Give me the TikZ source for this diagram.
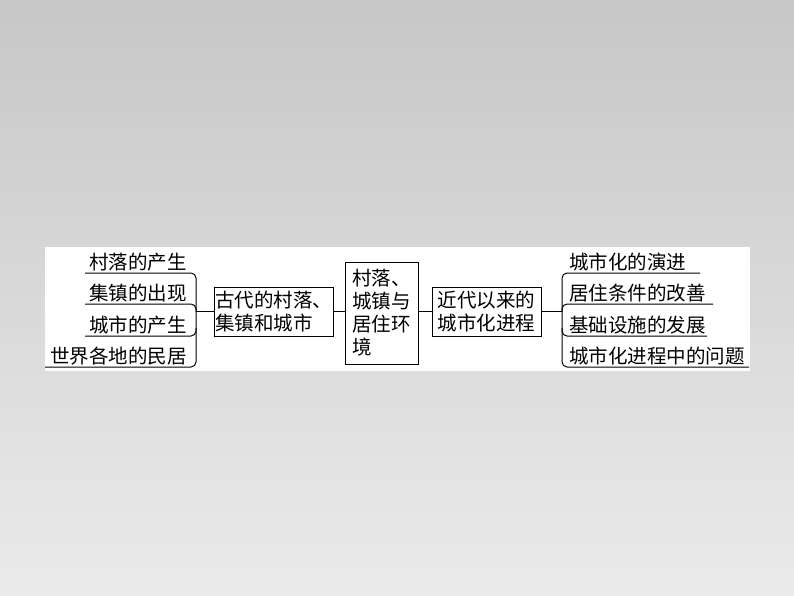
\documentclass[tikz,border=0pt]{standalone}
\usepackage{fontspec}
\newfontfamily\cjk{Noto Sans CJK SC}
\begin{document}
\begin{tikzpicture}[x=1pt,y=-1pt,
  txt/.style={font=\cjk\fontsize{19.5}{23}\selectfont,inner sep=0pt},
  box/.style={draw,line width=1pt,font=\cjk\fontsize{19.5}{23}\selectfont,align=left,inner sep=1pt},
  ln/.style={line width=1pt}]
\shade[top color=black!22,bottom color=black!8] (0,0) rectangle (794,596);
\useasboundingbox (0,0) rectangle (794,596);
\fill[white] (45,247) rectangle (750,371);
% left items
\node[txt,anchor=south east] (l1) at (187,271) {村落的产生};
\node[txt,anchor=south east] (l2) at (187,302) {集镇的出现};
\node[txt,anchor=south east] (l3) at (187,334) {城市的产生};
\node[txt,anchor=south east] (l4) at (187,365) {世界各地的民居};
\draw[ln,rounded corners=5pt] (85,273) -- (196,273) -- (196,367) -- (45,367);
\draw[ln,rounded corners=5pt] (85,304) -- (196,304) -- (196,312);
\draw[ln,rounded corners=5pt] (85,336) -- (196,336) -- (196,328);
% boxes
\node[box,minimum width=119pt,minimum height=49pt] (b1) at (273.5,311.5) {古代的村落、\\集镇和城市};
\node[box,minimum width=73pt,minimum height=102pt] (b2) at (381.5,313) {村落、\\城镇与\\居住环\\境};
\node[box,minimum width=109pt,minimum height=49pt] (b3) at (486.5,311.5) {近代以来的\\城市化进程};
\coordinate (lb) at (196,311.5);
\coordinate (rb) at (562,311.5);
\draw[ln] (lb) -- (b1.west);
\draw[ln] (b1.east) -- (b1.east -| b2.west);
\draw[ln] (b2.east |- b3.west) -- (b3.west);
\draw[ln] (b3.east) -- (rb);
% right items
\node[txt,anchor=south west] (r1) at (569,271) {城市化的演进};
\node[txt,anchor=south west] (r2) at (569,302) {居住条件的改善};
\node[txt,anchor=south west] (r3) at (569,334) {基础设施的发展};
\node[txt,anchor=south west] (r4) at (569,365) {城市化进程中的问题};
\draw[ln,rounded corners=5pt] (700,273) -- (562,273) -- (562,367) -- (749,367);
\draw[ln,rounded corners=5pt] (713,304) -- (562,304) -- (562,312);
\draw[ln,rounded corners=5pt] (707,336) -- (562,336) -- (562,328);
\end{tikzpicture}
\end{document}
